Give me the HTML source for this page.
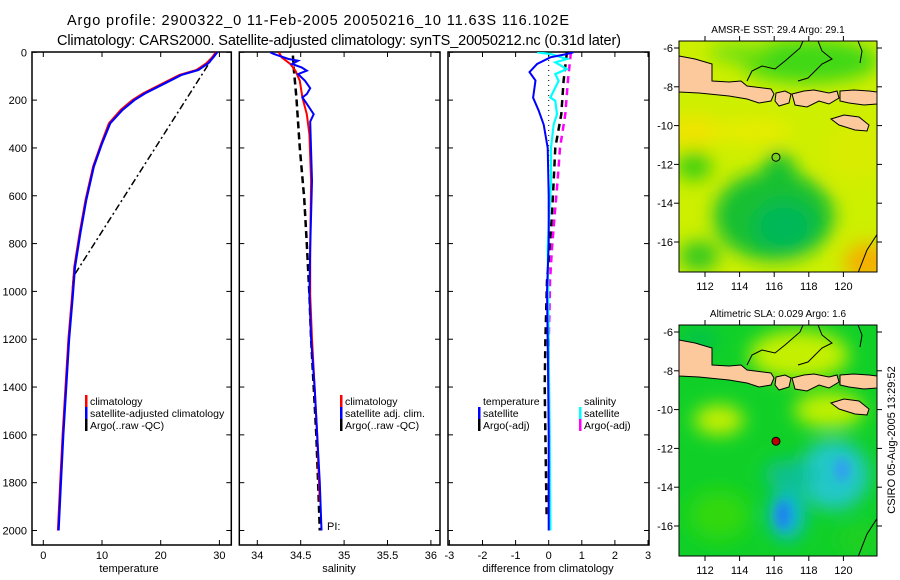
<!DOCTYPE html>
<html><head><meta charset="utf-8"><style>
html,body{margin:0;padding:0;background:#fff;}
svg{display:block;font-family:"Liberation Sans",sans-serif;}
</style></head><body>
<svg id="fig" width="900" height="580" viewBox="0 0 900 580" xmlns="http://www.w3.org/2000/svg">
<defs>
<clipPath id="cp1"><rect x="32" y="52" width="199.3" height="493"/></clipPath>
<clipPath id="cp2"><rect x="239.3" y="52" width="200.7" height="493"/></clipPath>
<clipPath id="cp3"><rect x="448" y="52" width="201" height="493"/></clipPath>
<clipPath id="cpm"><rect x="0" y="0" width="198" height="231"/></clipPath>
<filter id="bl" x="-50%" y="-50%" width="200%" height="200%"><feGaussianBlur stdDeviation="9"/></filter>
<filter id="bl2" x="-50%" y="-50%" width="200%" height="200%"><feGaussianBlur stdDeviation="5"/></filter>
</defs>
<text x="67" y="25" font-size="14.5" textLength="502">Argo profile:  2900322_0 11-Feb-2005 20050216_10 11.63S 116.102E</text>
<text x="57" y="45" font-size="14.5" textLength="564">Climatology: CARS2000. Satellite-adjusted climatology: synTS_20050212.nc (0.31d later)</text>
<g id="panels"></g>
<g id="maps"></g>
<text transform="translate(895,440) rotate(-90)" font-size="11" text-anchor="middle">CSIRO 05-Aug-2005 13:29:52</text>
</svg>
<script>
// ---------- data ----------
const depthTicks = [0,200,400,600,800,1000,1200,1400,1600,1800,2000];
const tempTicks = [0,10,20,30];
const salTicks = [34,34.5,35,35.5,36];
const salTickLabels = ["34","34.5","35","35.5","36"];
const diffTicks = [-3,-2,-1,0,1,2,3];

const climTempDepth = [0,20,46,74,95,130,172,200,241,297,381,478,618,757,897,1022,1200,1400,1600,1800,2000];
const climTemp      = [29.4,28.8,27.8,26.1,23.2,20.4,17.0,15.2,13.2,11.2,9.9,8.5,7.2,6.2,5.3,4.9,4.3,3.8,3.3,2.9,2.5];
const satTemp       = [29.6,29.0,28.1,26.4,23.5,20.7,17.3,15.5,13.5,11.4,10.0,8.6,7.3,6.3,5.4,5.0,4.4,3.9,3.4,3.0,2.6];
const argoTempDepth = [0,32,939,1022,1200,1400,1600,1800,2000];
const argoTemp      = [29.3,28.6,5.1,4.9,4.3,3.8,3.3,2.9,2.5];

const climSalDepth = [0,21,49,77,119,189,259,343,538,818,1014,1200,1400,1600,1880];
const climSal      = [34.25,34.28,34.38,34.44,34.49,34.52,34.57,34.6,34.62,34.61,34.61,34.63,34.66,34.69,34.72];
const satSalDepth  = [0,7,28,35,49,63,77,91,119,150,175,189,210,259,290,538,818,1014,1200,1400,1600,1800,2000];
const satSal       = [34.15,34.19,34.36,34.47,34.4,34.51,34.57,34.47,34.55,34.61,34.57,34.52,34.56,34.65,34.61,34.63,34.61,34.6,34.62,34.66,34.69,34.72,34.74];
const argoSalDepth = [14,70,189,400,610,800,1014,1200,1400,1600,1800,2000];
const argoSal      = [34.41,34.42,34.45,34.49,34.54,34.57,34.6,34.62,34.65,34.68,34.7,34.72];

const dTempDepth = [0,7,21,49,83,118,190,245,303,400,600,800,1000,1300,1600,2000];
const dTempSat   = [0.75,0.55,0.05,-0.35,-0.58,-0.4,-0.47,-0.3,-0.15,-0.03,0,0,-0.05,-0.02,0,0];
const dSalDepth  = [0,7,28,42,70,91,119,189,203,259,301,399,538,818,1238,1600,2000];
const dSalSat    = [-0.35,0.05,0.55,0.2,0.55,0.2,0.3,0.05,0.2,0.25,0.15,0.07,0.07,-0.03,0,0.03,0.05];
const dArgoDepth = [0,119,259,399,538,678,818,957,1097,1200,1400,1600,1800,1950];
const dTempArgo  = [0.55,0.45,0.38,0.2,0.15,0.1,0.03,-0.05,-0.08,-0.1,-0.12,-0.1,-0.08,-0.06];
const dSalArgo   = [0.67,0.58,0.5,0.34,0.27,0.18,0.1,0.04,0.02,0.0,0.0,0.02,0.0,0.0];

// ---------- scales ----------
const yD = d => 52.3 + d*0.2391;
const xT = t => 43.3 + t*5.87;
const xS = s => 257.3 + (s-34)*86.8;
const xDf = v => 548.7 + v*33.1;

const NS = "http://www.w3.org/2000/svg";
function el(tag, attrs, parent){const e=document.createElementNS(NS,tag);for(const k in attrs)e.setAttribute(k,attrs[k]);parent.appendChild(e);return e;}
const P = document.getElementById('panels');

function line(xs, ds, xf, style, clip, name){
  const pts = xs.map((v,i)=>xf(v).toFixed(1)+','+yD(ds[i]).toFixed(1)).join(' ');
  const e = el('polyline',Object.assign({points:pts,fill:'none','clip-path':'url(#'+clip+')'},style),P);
  
  
}

function frame(x0,x1,name){
  const r = el('rect',{x:x0,y:52,width:x1-x0,height:493,fill:'none',stroke:'#000','stroke-width':1.5},P);
  
  
  depthTicks.forEach(d=>{
    el('line',{x1:x0,x2:x0+5,y1:yD(d),y2:yD(d),stroke:'#000'},P);
    el('line',{x1:x1-5,x2:x1,y1:yD(d),y2:yD(d),stroke:'#000'},P);
  });
}
function xticks(vals,labels,xf,x0,x1,name){
  vals.forEach((v,i)=>{
    const x=xf(v);
    el('line',{x1:x,x2:x,y1:545,y2:540,stroke:'#000'},P);
    el('line',{x1:x,x2:x,y1:52,y2:57,stroke:'#000'},P);
    const t=el('text',{x:x,y:559,'font-size':11,'text-anchor':'middle'},P);
    t.textContent=labels[i];
    
    
  });
}
frame(32,231.3,'temperature-panel');
frame(239.3,440,'salinity-panel');
frame(448,649,'difference-panel');
depthTicks.forEach(d=>{
  const t=el('text',{x:27,y:yD(d)+4,'font-size':11,'text-anchor':'end'},P);
  t.textContent=d;
  
  
});
xticks(tempTicks,tempTicks.map(String),xT,32,231,'temperature');
xticks(salTicks,salTickLabels,xS,239,440,'salinity');
xticks(diffTicks,diffTicks.map(String),xDf,448,649,'difference');
[['temperature',129],['salinity',339],['difference from climatology',548]].forEach(([s,x])=>{
  const t=el('text',{x:x,y:572,'font-size':11,'text-anchor':'middle'},P);
  t.textContent=s;
  
  
});

line(argoTemp,argoTempDepth,xT,{stroke:'#000','stroke-width':1.5,'stroke-dasharray':'7,3,2,3'},'cp1','argo-temperature-line');
line(climTemp,climTempDepth,xT,{stroke:'#f00','stroke-width':2.2},'cp1','climatology-temperature-line');
line(satTemp,climTempDepth,xT,{stroke:'#0000ff','stroke-width':2.2},'cp1','satellite-temperature-line');
line(argoSal,argoSalDepth,xS,{stroke:'#000','stroke-width':2.5,'stroke-dasharray':'7,4'},'cp2','argo-salinity-line');
line(climSal,climSalDepth,xS,{stroke:'#f00','stroke-width':2},'cp2','climatology-salinity-line');
line(satSal,satSalDepth,xS,{stroke:'#0000ff','stroke-width':2},'cp2','satellite-salinity-line');
el('line',{x1:xDf(0),x2:xDf(0),y1:55,y2:200,stroke:'#000','stroke-width':1,'stroke-dasharray':'1,4'},P);
line(dTempArgo,dArgoDepth,xDf,{stroke:'#000','stroke-width':2.5,'stroke-dasharray':'7,5'},'cp3','argo-temp-diff-line');
line(dSalArgo,dArgoDepth,xDf,{stroke:'#ff00ff','stroke-width':2.5,'stroke-dasharray':'7,5'},'cp3','argo-sal-diff-line');
line(dSalSat,dSalDepth,xDf,{stroke:'#00ffff','stroke-width':2.2},'cp3','satellite-sal-diff-line');
line(dTempSat,dTempDepth,xDf,{stroke:'#0000ff','stroke-width':2},'cp3','satellite-temp-diff-line');

function leg(x,y,col,txt,name){
  if(col) el('rect',{x:x-5,y:y-10,width:2.5,height:12,fill:col},P);
  const t=el('text',{x:x,y:y,'font-size':10.5},P);
  t.textContent=txt;
  
  
}
leg(90,405,'#f00','climatology','legend-climatology');
leg(90,417,'#00f','satellite-adjusted climatology','legend-satellite-adjusted');
leg(90,429,'#000','Argo(..raw -QC)','legend-argo');
leg(345,405,'#f00','climatology','legend-sal-climatology');
leg(345,417,'#00f','satellite adj. clim.','legend-sal-satellite');
leg(345,429,'#000','Argo(..raw -QC)','legend-sal-argo');
leg(483,405,null,'temperature','legend-temp-header');
leg(483,417,'#00f','satellite','legend-temp-satellite');
leg(483,429,'#000','Argo(-adj)','legend-temp-argo');
leg(584,405,null,'salinity','legend-sal-header');
leg(584,417,'#0ff','satellite','legend-sal-diff-satellite');
leg(584,429,'#f0f','Argo(-adj)','legend-sal-diff-argo');
const pi=el('text',{x:327,y:530,'font-size':11},P); pi.textContent='PI:';



// ---------- maps ----------
const lonTicks=[112,114,116,118,120];
const latTicks=[-6,-8,-10,-12,-14,-16];
const mapLon=(l)=>26+(l-112)*17.3;
const mapLat=(l)=>7-(l+6)*19.4;
const M=document.getElementById('maps');
const land=[
 [[0,15],[16,18],[33,23],[33,40],[50,41],[62,40],[68,45],[92,48],[95,53],[92,60],[80,62],[68,58],[50,55],[20,52],[0,51]],
 [[97,52],[106,50],[112,53],[110,62],[100,65],[96,60]],
 [[113,53],[125,50],[135,49],[150,52],[158,50],[160,57],[150,63],[140,60],[128,66],[116,64]],
 [[161,50],[175,49],[190,50],[198,51],[198,63],[185,64],[170,62],[161,60]],
 [[152,78],[165,74],[180,76],[190,84],[188,90],[176,89],[160,84]]
];
const coasts=[
 [[124,0],[121,7],[106,20],[96,28],[83,25],[73,30],[68,40]],
 [[139,0],[143,10],[153,18],[143,23],[129,37],[119,40]],
 [[179,0],[183,10],[181,22]],
 [[199,192],[188,209],[179,232]]
];
function drawMap(ox,oy,title,kind){
  const g=el('g',{transform:`translate(${ox},${oy})`},M);
  
  
  const c=el('g',{'clip-path':'url(#cpm)'},g);
  if(kind==='sst'){
    el('rect',{x:0,y:0,width:198,height:231,fill:'#cdef00'},c);
    const b=el('g',{filter:'url(#bl)'},c);
    [[130,20,70,22,'#40d818'],[60,12,30,10,'#70e010'],[15,90,30,15,'#f0e400'],[75,90,40,12,'#e8ec00'],[15,125,18,15,'#40d010'],
     [95,175,60,45,'#18c030'],[100,150,20,40,'#18c030'],[105,185,30,25,'#00b858'],[190,222,25,20,'#f4b000'],[20,215,20,15,'#30c820'],[175,110,30,30,'#d8ec00']]
     .forEach(a=>el('ellipse',{cx:a[0],cy:a[1],rx:a[2],ry:a[3],fill:a[4]},b));
  } else {
    el('rect',{x:0,y:0,width:198,height:231,fill:'#10d028'},c);
    const b=el('g',{filter:'url(#bl)'},c);
    [[120,30,50,25,'#c4f000'],[40,95,25,15,'#c8f000'],[150,85,35,18,'#c0f000'],[20,15,20,10,'#00c050'],
     [155,150,35,35,'#20c8c8'],[110,150,25,15,'#10c090'],[108,190,18,25,'#10b8d8'],[40,190,30,25,'#30d810'],[180,215,20,15,'#20d020']]
     .forEach(a=>el('ellipse',{cx:a[0],cy:a[1],rx:a[2],ry:a[3],fill:a[4]},b));
    const b2=el('g',{filter:'url(#bl2)'},c);
    [[104,190,7,14,'#2080f0'],[163,145,8,12,'#30a0f0']].forEach(a=>el('ellipse',{cx:a[0],cy:a[1],rx:a[2],ry:a[3],fill:a[4]},b2));
  }
  land.forEach(p=>el('polygon',{points:p.map(q=>q.join(',')).join(' '),fill:'#fcc99c',stroke:'#000','stroke-width':1},c));
  coasts.forEach(p=>el('polyline',{points:p.map(q=>q.join(',')).join(' '),fill:'none',stroke:'#000','stroke-width':1},c));
  const mk=el('circle',{cx:mapLon(116.102),cy:mapLat(-11.63),r:4,fill:kind==='sst'?'#7ad020':'#c00000',stroke:'#000','stroke-width':1},g);
  
  
  el('rect',{x:0,y:0,width:198,height:231,fill:'none',stroke:'#000','stroke-width':1},g);
  lonTicks.forEach(l=>{
    const x=mapLon(l);
    el('line',{x1:x,x2:x,y1:231,y2:236,stroke:'#000'},g);
    el('line',{x1:x,x2:x,y1:0,y2:-5,stroke:'#000'},g);
    const t=el('text',{x:x,y:249,'font-size':11,'text-anchor':'middle'},g); t.textContent=l;
    
    
  });
  latTicks.forEach(l=>{
    const y=mapLat(l);
    el('line',{x1:0,x2:-5,y1:y,y2:y,stroke:'#000'},g);
    el('line',{x1:198,x2:203,y1:y,y2:y,stroke:'#000'},g);
    const t=el('text',{x:-6,y:y+4,'font-size':11,'text-anchor':'end'},g); t.textContent=l;
    
    
  });
  const tt=el('text',{x:99,y:-8,'font-size':10,'text-anchor':'middle'},g); tt.textContent=title;
  
  
}
drawMap(679,41,'AMSR-E SST: 29.4 Argo: 29.1','sst');
drawMap(679,325,'Altimetric SLA: 0.029 Argo: 1.6','sla');
</script>
</body></html>
